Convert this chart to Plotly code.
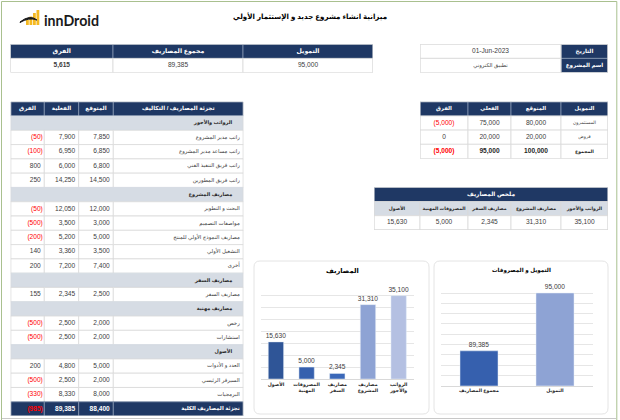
import plotly.graph_objects as go

W, H = 620, 420
FONT = "Liberation Sans, DejaVu Sans, sans-serif"
NAVY = "#1f3864"
GREY = "#d6dce4"
LINE = "#d9d9d9"
RED = "#ff0000"
TEXT = "#404040"

# --- data ---
TITLE = "ميزانية انشاء مشروع جديد و الإستثمار الأولي"

TOP_HEAD = ["الفرق", "مجموع المصاريف", "التمويل"]
TOP_VALUES = [5615, 89385, 95000]

PROJECT_LABELS = ["التاريخ", "اسم المشروع"]
PROJECT_VALUES = ["01-Jun-2023", "تطبيق الكتروني"]

FUND_HEAD = ["الفرق", "الفعلي", "المتوقع", "التمويل"]
FUND_LABELS = ["المستثمرون", "قروض", "المجموع"]
FUND_PLANNED = [80000, 20000, 100000]
FUND_ACTUAL = [75000, 20000, 95000]
FUND_DIFF = [-5000, 0, -5000]

SUMMARY_TITLE = "ملخص المصاريف"
SUMMARY_HEAD = ["الأصول", "المصروفات المهنية", "مصاريف السفر", "مصاريف المشروع", "الرواتب والأجور"]
SUMMARY_VALUES = [15630, 5000, 2345, 31310, 35100]

BREAK_HEAD = ["الفرق", "الفعلية", "المتوقع", "تجزئة المصاريف / التكاليف"]
BREAK_LABELS = [
    "الرواتب والأجور", "راتب مدير المشروع", "راتب مساعد مدير المشروع", "راتب فريق التنفيذ الفني",
    "راتب فريق المطورين", "مصاريف المشروع", "البحث و التطوير", "مواصفات التصميم",
    "مصاريف النموذج الأولي للمنتج", "التشغيل الأولي", "أخرى", "مصاريف السفر", "مصاريف السفر",
    "مصاريف مهنية", "رخص", "استشارات", "الأصول", "العدد و الأدوات", "السيرفر الرئيسي", "البرمجيات",
]
# None marks a section heading row
BREAK_PLANNED = [None, 7850, 6850, 6800, 14500, None, 12000, 3000, 5000, 3500, 7400,
                 None, 2500, None, 2000, 2000, None, 5000, 2000, 8000]
BREAK_ACTUAL = [None, 7900, 6950, 6000, 14250, None, 12050, 3500, 5200, 3360, 7200,
                None, 2345, None, 2500, 2500, None, 4800, 2500, 8330]
BREAK_DIFF = [None, -50, -100, 800, 250, None, -50, -500, -200, 140, 200,
              None, 155, None, -500, -500, None, 200, -500, -330]
BREAK_TOTAL = ["تجزئة المصاريف الكلية", 88400, 89385, -985]

CHART1_TITLE = "المصاريف"
CHART1_CATS = ["الأصول", "المصروفات<br>المهنية", "مصاريف<br>السفر", "مصاريف<br>المشروع", "الرواتب<br>والأجور"]
CHART1_VALUES = [15630, 5000, 2345, 31310, 35100]
CHART1_COLORS = ["#2f5597", "#3660ae", "#3b68b8", "#8ea3d4", "#b4c0e2"]

CHART2_TITLE = "التمويل و المصروفات"
CHART2_CATS = ["مجموع المصاريف", "التمويل"]
CHART2_VALUES = [89385, 95000]
CHART2_COLORS = ["#3660ae", "#8ea3d4"]


def num(v):
    return f"({-v:,})" if v < 0 else f"{v:,}"


fig = go.Figure()
shapes, annotations, axes = [], [], {}
axis_no = 0


def new_axes(left, top, right, bottom, **kw):
    global axis_no
    axis_no += 1
    s = "" if axis_no == 1 else str(axis_no)
    axes[f"xaxis{s}"] = dict(domain=[left / W, right / W], anchor=f"y{s}", fixedrange=True,
                             **kw.get("x", dict(visible=False)))
    axes[f"yaxis{s}"] = dict(domain=[1 - bottom / H, 1 - top / H], anchor=f"x{s}", fixedrange=True,
                             **kw.get("y", dict(visible=False)))
    return f"x{s}", f"y{s}"


# each row: (style, [cell texts left to right]); one text = merged across the row
STYLES = {
    "head": dict(fill=NAVY, line="#8496b0", color="#ffffff", bold=True),
    "body": dict(fill="#ffffff", line=LINE, color=TEXT, bold=False),
    "bold": dict(fill="#ffffff", line=LINE, color="#262626", bold=True),
    "sub": dict(fill=GREY, line=LINE, color="#262626", bold=True),
    "section": dict(fill=GREY, line=GREY, color="#262626", bold=True),
    "total": dict(fill=NAVY, line="#8496b0", color="#ffffff", bold=True),
}


def add_table(left, top, widths, row_h, rows, aligns=None, label_size=5.4, head_size=5.7):
    n = len(rows)
    xa, ya = new_axes(left, top, left + sum(widths), top + n * row_h,
                      x=dict(visible=False, range=[0, sum(widths)]),
                      y=dict(visible=False, range=[n, 0]))
    shapes.append(dict(type="rect", x0=0, x1=sum(widths), y0=0, y1=n, xref=xa, yref=ya,
                       line=dict(color=LINE, width=1), fillcolor="rgba(0,0,0,0)"))
    bx, by, bb, bf, bl = [], [], [], [], []
    tx, ty, tt, tc, ts, tp = [], [], [], [], [], []
    for r, (style, cells) in enumerate(rows):
        st = STYLES[style]
        edges = [0]
        for w in widths:
            edges.append(edges[-1] + w)
        merged = len(cells) == 1
        for c, cell in enumerate(cells):
            x0 = 0 if merged else edges[c]
            x1 = sum(widths) if merged else edges[c + 1]
            bx.append(x1 - x0); bb.append(x0); by.append(r + 0.5)
            bf.append(st["fill"]); bl.append(st["line"])
            is_num = isinstance(cell, (int, float))
            label = num(cell) if is_num else cell
            color = RED if is_num and cell < 0 else st["color"]
            if style == "head":
                size = head_size
            elif style == "sub":
                size = 4.6
            elif style == "section":
                size = 5.0
            elif is_num or label[:1].isdigit() or label.startswith("<b>"):
                size = 6.6
            else:
                size = label_size
            al = "c" if aligns is None or style in ("head", "sub") else aligns[c]
            if merged:
                al = "c" if aligns is None else "s"
            if al == "c":
                tx.append((x0 + x1) / 2); tp.append("middle center")
            elif al == "s":
                tx.append(x1 - 11); tp.append("middle left")
            else:
                pad = 1.5 if is_num and cell < 0 else 3.5
                tx.append(x1 - pad); tp.append("middle left")
            ty.append(r + 0.5)
            tt.append(f"<b>{label}</b>" if st["bold"] else label)
            tc.append(color); ts.append(size)
    fig.add_trace(go.Bar(x=bx, y=by, base=bb, width=1, orientation="h", xaxis=xa, yaxis=ya,
                         marker=dict(color=bf, line=dict(color=bl, width=0.8)),
                         hoverinfo="skip", showlegend=False))
    fig.add_trace(go.Scatter(x=tx, y=ty, text=tt, mode="text", textposition=tp, xaxis=xa, yaxis=ya,
                             textfont=dict(color=tc, size=ts, family=FONT), cliponaxis=False,
                             hoverinfo="skip", showlegend=False))


def add_chart(left, top, right, bottom, cats, values, colors, y_range, dtick, tick_size):
    xa, ya = new_axes(left, top, right, bottom,
                      x=dict(type="category", categoryorder="array", categoryarray=cats,
                             showgrid=False, ticks="", ticklen=0, showline=True, linecolor="#d9d9d9",
                             tickangle=0, automargin=False,
                             tickfont=dict(size=tick_size, color="#262626", family=FONT, weight="bold")),
                      y=dict(range=y_range, dtick=dtick, showticklabels=False, ticks="", showline=False,
                             zeroline=False, showgrid=True, gridcolor="#e6e6e6", gridwidth=0.8))
    fig.add_trace(go.Bar(x=cats, y=values, xaxis=xa, yaxis=ya, marker_color=colors, width=0.5,
                         text=[num(v) for v in values], textposition="outside", cliponaxis=False,
                         constraintext="none",
                         textfont=dict(size=6.6, color=TEXT, family=FONT),
                         hoverinfo="skip", showlegend=False))


def card(x0, y0, x1, y1, r=6):
    shapes.append(dict(
        type="path", xref="paper", yref="paper", layer="below",
        path=(f"M {(x0 + r) / W} {1 - y0 / H} L {(x1 - r) / W} {1 - y0 / H} "
              f"Q {x1 / W} {1 - y0 / H} {x1 / W} {1 - (y0 + r) / H} L {x1 / W} {1 - (y1 - r) / H} "
              f"Q {x1 / W} {1 - y1 / H} {(x1 - r) / W} {1 - y1 / H} L {(x0 + r) / W} {1 - y1 / H} "
              f"Q {x0 / W} {1 - y1 / H} {x0 / W} {1 - (y1 - r) / H} L {x0 / W} {1 - (y0 + r) / H} "
              f"Q {x0 / W} {1 - y0 / H} {(x0 + r) / W} {1 - y0 / H} Z"),
        line=dict(color="#e4e4e4", width=1), fillcolor="#ffffff"))


def page_text(x, y, text, size, color="#000000", anchor="center", family=FONT):
    annotations.append(dict(x=x / W, y=1 - y / H, xref="paper", yref="paper", text=text, showarrow=False,
                            xanchor=anchor, yanchor="middle", font=dict(size=size, color=color, family=family)))


def page_rect(x0, y0, x1, y1, fill=None, line=None, width=1):
    shapes.append(dict(type="rect", xref="paper", yref="paper", x0=x0 / W, x1=x1 / W,
                       y0=1 - y0 / H, y1=1 - y1 / H, fillcolor=fill or "rgba(0,0,0,0)",
                       line=dict(color=line or "rgba(0,0,0,0)", width=width if line else 0), layer="below"))


# --- charts ---
card(254, 261, 429, 414)
card(434, 261, 608, 414)
add_chart(260.6, 284, 414, 379, CHART1_CATS, CHART1_VALUES, CHART1_COLORS, [0, 40000], 5000, 4.7)
add_chart(441, 282.7, 593, 385.7, CHART2_CATS, CHART2_VALUES, CHART2_COLORS, [86000, 96000], 1000, 4.7)
page_text(342.5, 271, f"<b>{CHART1_TITLE}</b>", 6.7)
page_text(521.5, 270, f"<b>{CHART2_TITLE}</b>", 5.6)

# --- tables ---
add_table(10.5, 44.2, [102.5, 130, 130], 14.2,
          [("head", TOP_HEAD), ("body", [f"<b>{TOP_VALUES[0]:,}</b>", *TOP_VALUES[1:]])], head_size=6.2)
add_table(420, 44.2, [141, 47], 14.2,
          [("body", [PROJECT_VALUES[0], ""]), ("body", [PROJECT_VALUES[1], ""])])
add_table(561, 44.2, [47], 14.2, [("head", [PROJECT_LABELS[0]]), ("head", [PROJECT_LABELS[1]])], head_size=5.6)
add_table(420, 101.7, [48, 43, 50, 47], 14.2,
          [("head", FUND_HEAD),
           ("body", [FUND_DIFF[0], FUND_ACTUAL[0], FUND_PLANNED[0], FUND_LABELS[0]]),
           ("body", [FUND_DIFF[1], FUND_ACTUAL[1], FUND_PLANNED[1], FUND_LABELS[1]]),
           ("bold", [FUND_DIFF[2], FUND_ACTUAL[2], FUND_PLANNED[2], FUND_LABELS[2]])],
          label_size=4.6, head_size=5.4)
add_table(374, 187.3, [46, 48, 43, 50, 47], 14.2,
          [("head", [SUMMARY_TITLE]), ("sub", SUMMARY_HEAD), ("body", SUMMARY_VALUES)], head_size=5.8)

break_rows = [("head", BREAK_HEAD)]
for label, plan, actual, diff in zip(BREAK_LABELS, BREAK_PLANNED, BREAK_ACTUAL, BREAK_DIFF):
    if plan is None:
        break_rows.append(("section", [label]))
    else:
        break_rows.append(("body", [diff, actual, plan, label]))
break_rows.append(("total", [BREAK_TOTAL[3], BREAK_TOTAL[2], BREAK_TOTAL[1], BREAK_TOTAL[0]]))
add_table(10.7, 101.7, [33.6, 34.4, 34.6, 130], 14.29, break_rows, aligns=["r", "r", "r", "r"])

# --- title and logo ---
page_text(310, 16.5, f"<b>{TITLE}</b>", 7.1)
page_text(71, 20, "<b>innDroid</b>", 14.2, color="#1a1a1a", family="Lato, " + FONT)
for x0, y0 in [(26, 20), (29.5, 16.5), (33, 13), (36.5, 10)]:
    page_rect(x0, y0, x0 + 2.8, 25, fill="#f5b921")
shapes.append(dict(type="path", xref="paper", yref="paper",
                   path=f"M {20 / W} {1 - 22 / H} Q {30 / W} {1 - 14 / H} {37 / W} {1 - 20 / H} "
                        f"Q {29 / W} {1 - 17 / H} {20 / W} {1 - 22.5 / H} Z",
                   line=dict(color="#1a1a1a", width=1), fillcolor="#1a1a1a"))

# --- page frame ---
page_rect(1.5, 1.5, 616.8, 430, line="#a9c08f", width=1)
shapes.append(dict(type="line", xref="paper", yref="paper", x0=2 / W, x1=616 / W,
                   y0=1 - 418.5 / H, y1=1 - 418.5 / H, line=dict(color="#c8c8c8", width=1)))

fig.update_layout(
    width=W, height=H, margin=dict(l=0, r=0, t=0, b=0), autosize=False,
    paper_bgcolor="#ffffff", plot_bgcolor="rgba(0,0,0,0)",
    barmode="overlay", showlegend=False,
    font=dict(family=FONT, color=TEXT),
    shapes=shapes, annotations=annotations, **axes,
)

fig.write_html("out.html", config=dict(displayModeBar=False),
               post_script="document.body.style.margin='0';")
